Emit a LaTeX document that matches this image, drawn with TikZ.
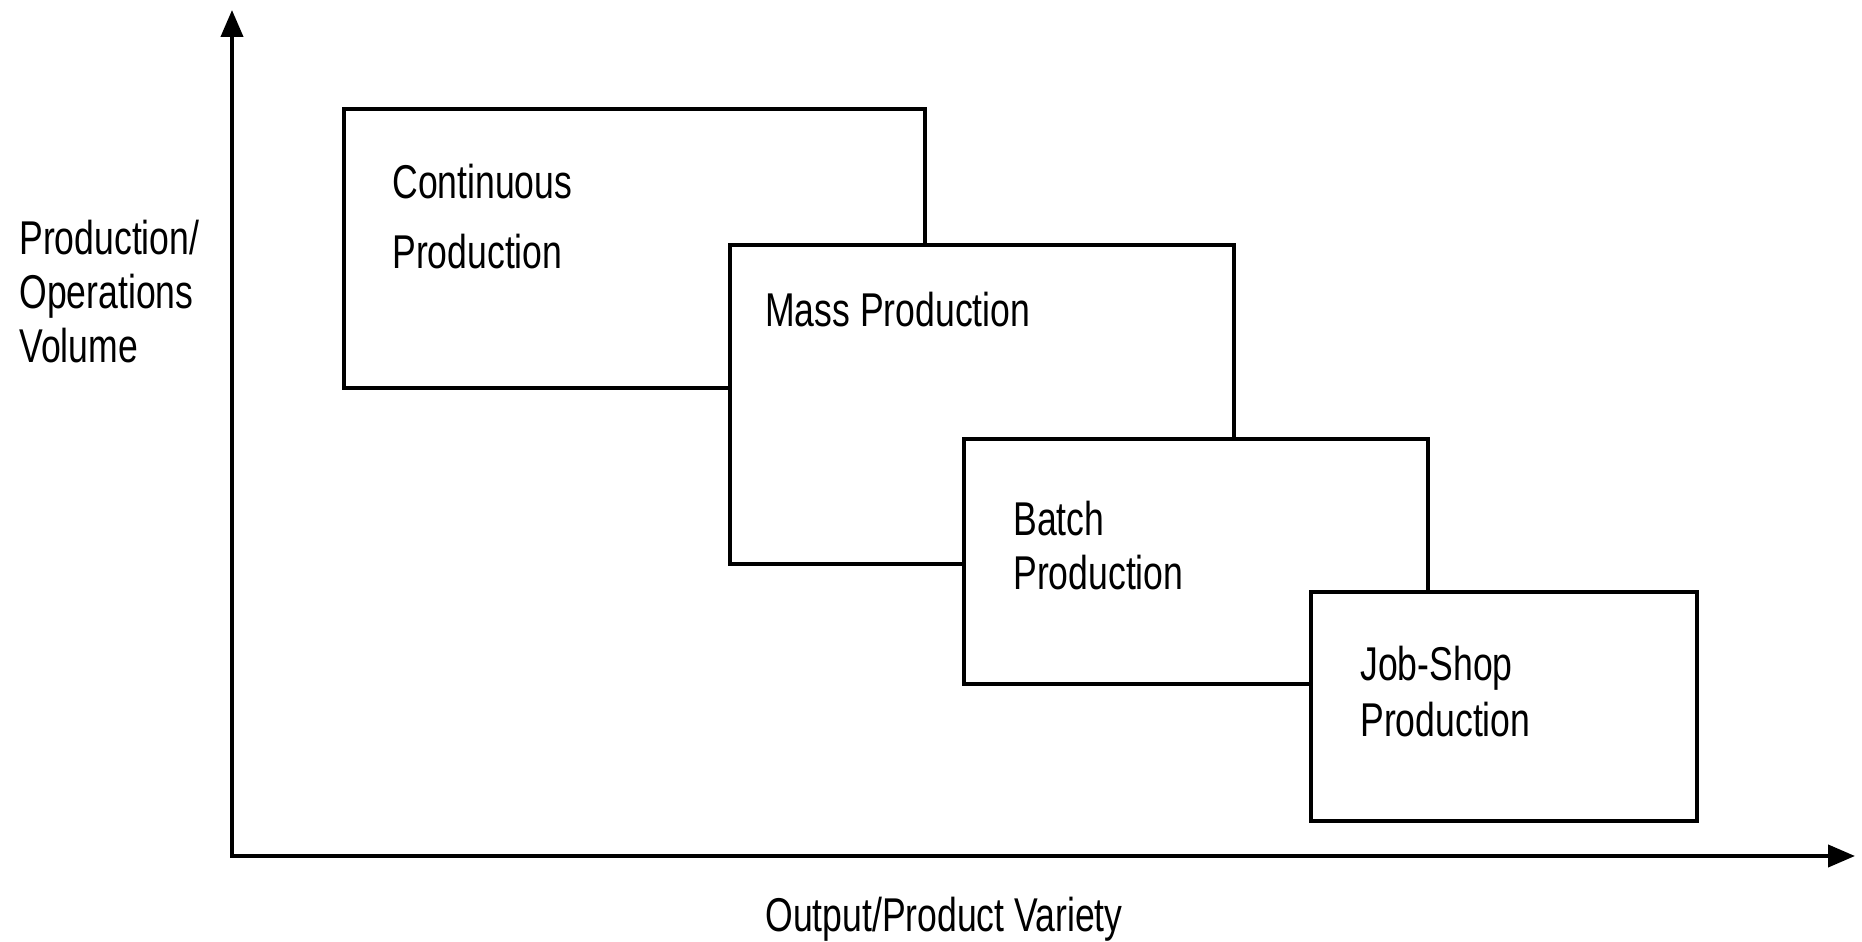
\documentclass[tikz,border=0pt]{standalone}
\usepackage{fontspec}
\setmainfont{Liberation Sans}[FakeStretch=0.75]
\usetikzlibrary{arrows.meta}

\tikzset{
  procbox/.style={draw=black, fill=white, line width=0.07cm},
  axisline/.style={line width=0.08cm, line join=miter,
    {Triangle[length=0.54cm,width=0.44cm]}-{Triangle[length=0.54cm,width=0.44cm]}},
  boxlabel/.style={anchor=base west, align=left, inner sep=0pt,
    font=\fontsize{27}{32}\selectfont},
}

\begin{document}
\begin{tikzpicture}[x=0.02cm, y=0.02cm]
\useasboundingbox (0,0) rectangle (1862,942);

% axes
\coordinate (origin) at (232,86);
\coordinate (ytip) at (232,932);
\coordinate (xtip) at (1855,86);
\draw[axisline] (ytip) -- (origin) -- (xtip);

% labels sit on the baseline of their last line
\node[boxlabel] (ylabel) at (19,579)
  {Production/\\[-1pt]Operations\\[-1pt]Volume};
\node[boxlabel] (xlabel) at (765,10) {Output/Product Variety};

% the four kinds of production
\draw[procbox] (344,554) rectangle (925,833);
\node[boxlabel] (cont) at (392,673) {Continuous\\[8pt]Production};

\draw[procbox] (730,378) rectangle (1234,697);
\node[boxlabel] (mass) at (765,615) {Mass Production};

\draw[procbox] (964,258) rectangle (1428,503);
\node[boxlabel] (batch) at (1013,352) {Batch\\[-1pt]Production};

\draw[procbox] (1311,121) rectangle (1697,350);
\node[boxlabel] (jobshop) at (1360,205) {Job-Shop\\Production};
\end{tikzpicture}
\end{document}
